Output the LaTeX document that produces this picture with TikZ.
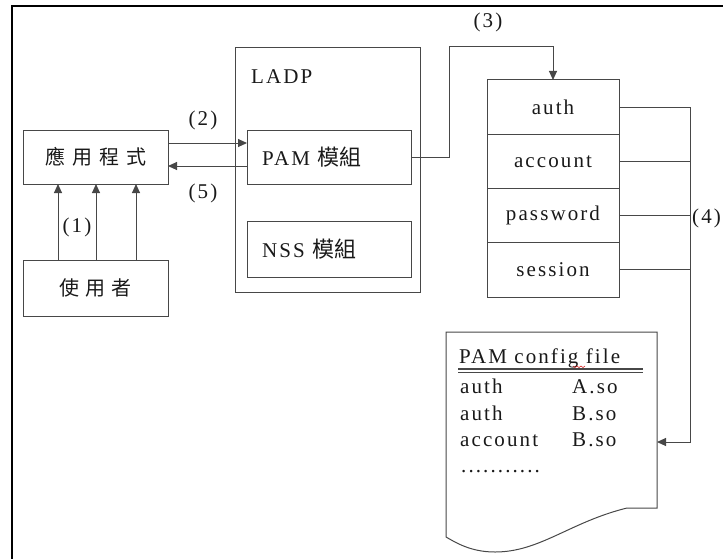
\documentclass[tikz,border=0pt]{standalone}
\usepackage{fontspec}
\setmainfont{Liberation Serif}[LetterSpace=10]
\newfontfamily\cjk{Noto Sans CJK TC}
\usetikzlibrary{arrows.meta,calc}
\definecolor{ln}{gray}{0.28}
\begin{document}
\begin{tikzpicture}[x=1pt,y=-1pt,
  every node/.style={font=\fontsize{21}{24}\selectfont, text=black!90},
  box/.style={draw=ln, line width=1pt, inner sep=0pt, outer sep=0pt},
  wire/.style={draw=ln, line width=1pt},
  arr/.style={draw=ln, line width=1pt, -{Triangle[length=9pt,width=8pt]}},
  lbl/.style={inner sep=0pt}]
\useasboundingbox (0,0) rectangle (723,558);
\draw[line width=2pt] (12,562) -- (12,6) -- (726,6);
% left side
\node[box, minimum width=145pt, minimum height=54pt] (app) at (95.5,157) {\cjk\fontsize{20}{22}\selectfont 應\hspace{7pt}用\hspace{7pt}程\hspace{7pt}式};
\node[box, minimum width=145pt, minimum height=56pt] (user) at (95.5,288) {\cjk\fontsize{20}{22}\selectfont 使\hspace{6pt}用\hspace{6pt}者};
% LADP
\node[box, minimum width=185pt, minimum height=245pt] (ladp) at (327.5,169.5) {};
\node[lbl, anchor=base west] (ladpt) at (251,83) {LADP};
\node[box, minimum width=164pt, minimum height=54pt] (pam) at (329,157) {};
\node[lbl, anchor=west] (pamt) at (262,157) {PAM {\cjk\fontsize{22}{24}\selectfont 模組}};
\node[box, minimum width=164pt, minimum height=56pt] (nss) at (329,249) {};
\node[lbl, anchor=west] (nsst) at (262,249) {NSS {\cjk\fontsize{22}{24}\selectfont 模組}};
% stack
\node[box, minimum width=132pt, minimum height=54.25pt] (auth) at (553,107.1) {auth};
\node[box, minimum width=132pt, minimum height=54.25pt] (account) at (553,161.4) {account};
\node[box, minimum width=132pt, minimum height=54.25pt] (password) at (553,215.6) {password};
\node[box, minimum width=132pt, minimum height=54.25pt] (session) at (553,269.9) {session};
% document
\draw[wire] (446,332) -- (657,332) -- (657,508) -- (627,508)
  .. controls (570,522) and (540,552) .. (495,552)
  .. controls (470,552) and (455,542) .. (446,537) -- cycle;
\node[lbl, anchor=base west] (cfgt) at (459,363) {PAM config file};
\draw[red!80!black, line width=0.5pt] (573,366) -- (575,367.5) -- (577,366) -- (579,367.5) -- (581,366) -- (583,367.5) -- (585,366);
\draw[ln, line width=1.2pt] (458,369) -- (643,369);
\draw[ln, line width=1.2pt] (458,372.5) -- (643,372.5);
\node[lbl, anchor=base west] (c1a) at (460,393) {auth};
\node[lbl, anchor=base west] (c1b) at (572,393) {A.so};
\node[lbl, anchor=base west] (c2a) at (460,420) {auth};
\node[lbl, anchor=base west] (c2b) at (572,420) {B.so};
\node[lbl, anchor=base west] (c3a) at (460,446) {account};
\node[lbl, anchor=base west] (c3b) at (572,446) {B.so};
\node[lbl, anchor=base west] (c4a) at (461,472) {...........};
\coordinate (docin) at (657,442);
% connectors
\foreach \dx in {35,73,113} {
  \draw[arr] ([xshift=\dx pt]user.north west) -- ([xshift=\dx pt]app.south west);
}
\node[lbl] (l1) at (77,227) {(1)};
\draw[arr] ([yshift=14pt]app.east) -- ([yshift=14pt]pam.west);
\node[lbl] (l2) at (203,120) {(2)};
\draw[arr] ([yshift=-9pt]pam.west) -- ([yshift=-9pt]app.east);
\node[lbl] (l5) at (203,193) {(5)};
\coordinate (c3) at (449,46);
\draw[arr] (pam.east) -| (c3) -| (auth.north);
\node[lbl] (l3) at (488,22) {(3)};
\coordinate (b4) at (690,442);
\draw[arr] (auth.east) -| (b4) -- (docin);
\draw[wire] (account.east) -- (account.east -| b4);
\draw[wire] (password.east) -- (password.east -| b4);
\draw[wire] (session.east) -- (session.east -| b4);
\node[lbl, anchor=west] (l4) at (692,218) {(4)};
\end{tikzpicture}
\end{document}
